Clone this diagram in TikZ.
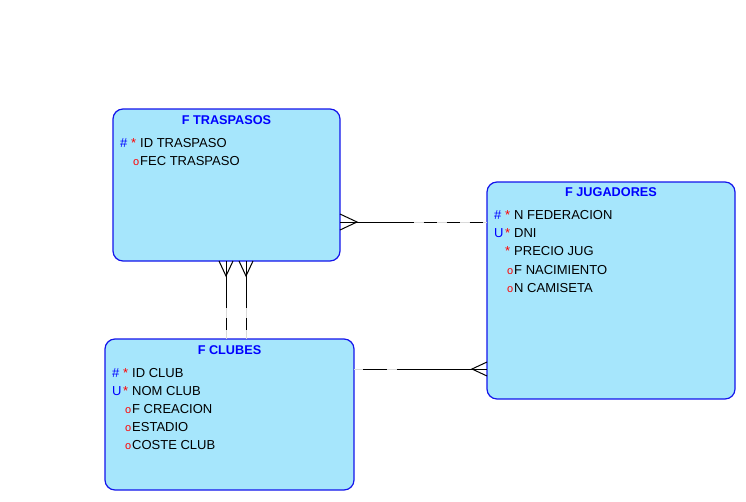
\documentclass[tikz,border=0pt]{standalone}
\usepackage{fontspec}
\setmainfont{Liberation Sans}
\usetikzlibrary{calc}
\definecolor{entfill}{RGB}{166,230,252}
\definecolor{entdraw}{RGB}{20,20,235}
\definecolor{keyblue}{RGB}{0,0,255}
\definecolor{gapgray}{RGB}{218,218,218}
\tikzset{
 entity/.style={draw=entdraw, fill=entfill, line width=1.2pt, rounded corners=10pt, anchor=north west, inner sep=0pt, outer sep=0pt},
 etitle/.style={anchor=base, text=keyblue, font=\fontsize{12.7}{14}\selectfont\bfseries, inner sep=0pt},
 attr/.style={anchor=base west, inner sep=0pt, font=\fontsize{13}{15}\selectfont},
 rel/.style={line width=1pt, black},
 relgap/.style={line width=1pt, gapgray},
}
\newcommand{\kpk}{\makebox[11pt][l]{\textcolor{keyblue}{\#}}}
\newcommand{\kuk}{\makebox[11pt][l]{\textcolor{keyblue}{U}}}
\newcommand{\knone}{\hspace*{11pt}}
\newcommand{\kreq}{\makebox[9pt][l]{\textcolor{red}{*}}}
\newcommand{\kopt}{\makebox[9pt][r]{\textcolor{red}{\fontsize{11}{11}\selectfont o}\hspace{1pt}}}
\begin{document}
\begin{tikzpicture}[x=1pt,y=-1pt]
\useasboundingbox (0,0) rectangle (746,501);
% entities
\node[entity, minimum width=227pt, minimum height=152pt] (tra) at (113,109) {};
\node[entity, minimum width=248pt, minimum height=217pt] (jug) at (487,182) {};
\node[entity, minimum width=249pt, minimum height=151pt] (clu) at (105,339) {};
% titles
\node[etitle] (tratitle) at (226.5,124) {F TRASPASOS};
\node[etitle] (jugtitle) at (611,196) {F JUGADORES};
\node[etitle] (clutitle) at (229.5,354) {F CLUBES};
% attributes
\node[attr] (t1) at (120,147) {\kpk\kreq ID TRASPASO};
\node[attr] (t2) at (120,165) {\knone\kopt FEC TRASPASO};
\node[attr] (j1) at (494,219.5) {\kpk\kreq N FEDERACION};
\node[attr] (j2) at (494,237.5) {\kuk\kreq DNI};
\node[attr] (j3) at (494,255.7) {\knone\kreq PRECIO JUG};
\node[attr] (j4) at (494,274) {\knone\kopt F NACIMIENTO};
\node[attr] (j5) at (494,292) {\knone\kopt N CAMISETA};
\node[attr] (c1) at (112,377.5) {\kpk\kreq ID CLUB};
\node[attr] (c2) at (112,395.5) {\kuk\kreq NOM CLUB};
\node[attr] (c3) at (112,413.5) {\knone\kopt F CREACION};
\node[attr] (c4) at (112,431.5) {\knone\kopt ESTADIO};
\node[attr] (c5) at (112,449.5) {\knone\kopt COSTE CLUB};
% helper coordinates
\coordinate (h1) at (0,222);
\coordinate (h2) at (0,369);
\coordinate (v1) at (226,0);
\coordinate (v2) at (246,0);
\coordinate (a1) at (tra.east |- h1);
\coordinate (b1) at (jug.west |- h1);
\coordinate (a2) at (tra.south -| v1);
\coordinate (b2) at (clu.north -| v1);
\coordinate (a3) at (tra.south -| v2);
\coordinate (b3) at (clu.north -| v2);
\coordinate (a4) at (clu.east |- h2);
\coordinate (b4) at (jug.west |- h2);
% connector TRASPASOS - JUGADORES
\draw[relgap] (a1) -- (b1);
\draw[rel] (a1) -- ($(a1)!0.5!(b1)$);
\draw[rel, dash pattern=on 13pt off 10pt, dash phase=13pt] ($(a1)!0.5!(b1)$) -- (b1);
\draw[rel] ($(a1)+(0,-8)$) -- ($(a1)+(17,0)$) -- ($(a1)+(0,8)$);
% connectors TRASPASOS - CLUBES
\foreach \a/\b in {a2/b2,a3/b3}{
 \draw[relgap] (\a) -- (\b);
 \draw[rel] (\a) -- ($(\a)!0.5!(\b)$);
 \draw[rel, dash pattern=on 12pt off 10pt, dash phase=4pt] ($(\a)!0.5!(\b)$) -- (\b);
 \draw[rel] ($(\a)+(-7,0)$) -- ($(\a)+(0,15)$) -- ($(\a)+(7,0)$);
}
% connector CLUBES - JUGADORES
\draw[relgap] (a4) -- (b4);
\draw[rel, dash pattern=on 24pt off 10pt, dash phase=25pt] (a4) -- ($(a4)!0.5!(b4)$);
\draw[rel] ($(a4)!0.5!(b4)$) -- (b4);
\draw[rel] ($(b4)+(0,-7)$) -- ($(b4)+(-15,0)$) -- ($(b4)+(0,7)$);
\end{tikzpicture}
\end{document}
